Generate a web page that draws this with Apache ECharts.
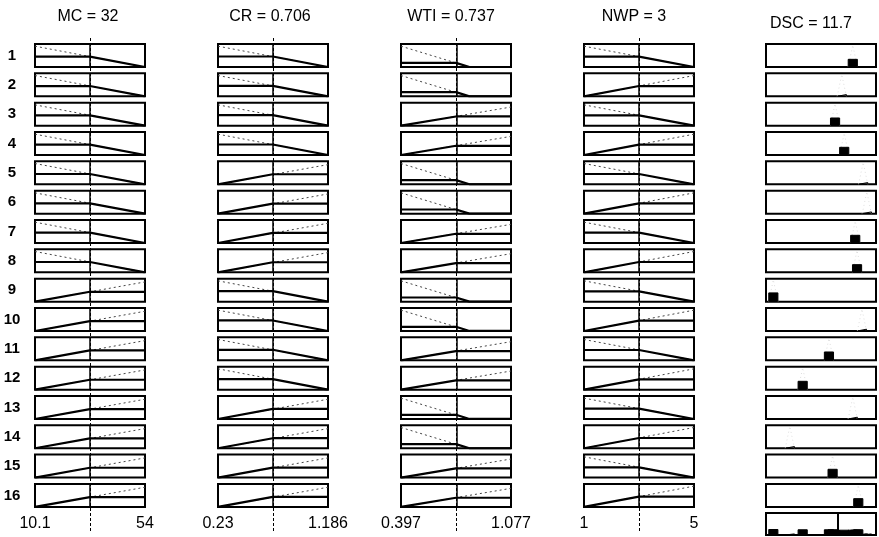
<!DOCTYPE html>
<html>
<head>
<meta charset="utf-8">
<script src="https://cdn.jsdelivr.net/npm/echarts@6/dist/echarts.min.js"></script>
<style>
  html, body { margin: 0; padding: 0; background: #fff; }
  #main { width: 879px; height: 537px; }
</style>
</head>
<body>
<div id="main"></div>
<script>
// fuzzy rule viewer: 16 rules, 4 inputs, 1 output
const ruleIds = [1, 2, 3, 4, 5, 6, 7, 8, 9, 10, 11, 12, 13, 14, 15, 16];
const titles = ["MC = 32", "CR = 0.706", "WTI = 0.737", "NWP = 3", "DSC = 11.7"];

const inputValues = [32, 0.706, 0.737, 3];
const inputMin = [10.1, 0.23, 0.397, 1];
const inputMax = [54, 1.186, 1.077, 5];
const minLabels = ["10.1", "0.23", "0.397", "1"];
const maxLabels = ["54", "1.186", "1.077", "5"];

// L = falling set, H = rising set
const mcSets  = ["L","L","L","L","L","L","L","L","H","H","H","H","H","H","H","H"];
const crSets  = ["L","L","L","L","H","H","H","H","L","L","L","L","H","H","H","H"];
const wtiSets = ["L","L","H","H","L","L","H","H","L","L","H","H","L","L","H","H"];
const nwpSets = ["L","H","L","H","L","H","L","H","L","H","L","H","L","H","L","H"];

const lowMF = [
  [[10.1, 0.95], [54, 0]],
  [[0.23, 0.95], [1.186, 0]],
  [[0.397, 0.95], [0.82, 0], [1.077, 0]],
  [[1, 0.95], [5, 0]]
];
const highMF = [
  [[10.1, 0], [54, 0.9]],
  [[0.23, 0], [1.186, 0.9]],
  [[0.397, 0], [1.077, 0.85]],
  [[1, 0], [5, 0.95]]
];
const lowLevel = [0.47, 0.48, 0.19, 0.47];
const highLevel = [0.45, 0.46, 0.42, 0.47];

// output DSC
const dscMin = 0, dscMax = 18, dscValue = 11.7;
const dscCenters = [14.2, 12.4, 11.3, 12.8, 15.9, 16.5, 14.6, 14.9, 1.2, 15.7, 10.3, 6.0, 14.2, 3.9, 10.9, 15.1];
const dscStrength = [0.35, 0.08, 0.35, 0.35, 0.08, 0.08, 0.35, 0.35, 0.4, 0.08, 0.38, 0.38, 0.08, 0.08, 0.38, 0.38];
const dscHalfWidth = 0.75;

const allSets = [mcSets, crSets, wtiSets, nwpSets];

// layout
const colLeft = [35, 218, 401, 584, 766];
const colWidth = 110;
const rowStart = 44, rowStep = 29.33, boxH = 23;
const aggTop = 513, aggH = 22;

const grid = [], xAxis = [], yAxis = [], series = [], graphic = [];
const font = '"Liberation Sans", Arial, sans-serif';

function addGrid(left, top, width, height, showBox) {
  grid.push({
    left: left, top: top, width: width, height: height,
    show: showBox, borderColor: "#000", borderWidth: 2, backgroundColor: showBox ? "#fff" : "transparent"
  });
  return grid.length - 1;
}
function hiddenY(max) {
  return { type: "value", min: 0, max: max, show: false, gridIndex: grid.length - 1 };
}

ruleIds.forEach((id, r) => {
  const top = rowStart + r * rowStep;
  graphic.push({
    type: "text", x: 12, y: top + boxH / 2,
    style: { text: String(id), font: "bold 15px " + font, fill: "#000", align: "center", verticalAlign: "middle" }
  });
  for (let c = 0; c < 4; c++) {
    const g = addGrid(colLeft[c], top, colWidth, boxH, true);
    const last = r === ruleIds.length - 1;
    const min = inputMin[c], max = inputMax[c], v = inputValues[c];
    xAxis.push({
      type: "value", gridIndex: g, min: min, max: max, interval: max - min,
      show: last, axisLine: { show: false }, axisTick: { show: false }, splitLine: { show: false },
      axisLabel: {
        show: last, margin: 9, color: "#000", fontSize: 16, fontFamily: font,
        showMinLabel: true, showMaxLabel: true,
        formatter: (val) => (Math.abs(val - min) < 1e-6 ? minLabels[c] : maxLabels[c])
      }
    });
    yAxis.push(hiddenY(1.05));
    const isLow = allSets[c][r] === "L";
    const mf = isLow ? lowMF[c] : highMF[c];
    let clipped;
    if (isLow) {
      const lvl = lowLevel[c];
      clipped = [[min, lvl], [v, lvl]].concat(mf.filter(p => p[0] > v));
    } else {
      const lvl = highLevel[c];
      clipped = mf.filter(p => p[0] < v).concat([[v, lvl], [max, lvl]]);
    }
    series.push({
      type: "line", xAxisIndex: g, yAxisIndex: g, data: mf, showSymbol: false, silent: true,
      lineStyle: { color: "#444", width: 1, type: [2, 3] }, z: 2
    });
    series.push({
      type: "line", xAxisIndex: g, yAxisIndex: g, data: clipped, showSymbol: false, silent: true,
      lineStyle: { color: "#000", width: 2.2 }, z: 3,
      markLine: {
        silent: true, symbol: "none", animation: false, label: { show: false },
        lineStyle: { color: "#000", width: 1.5, type: "solid" },
        data: [{ xAxis: v }]
      }
    });
  }
  // output box
  const g = addGrid(colLeft[4], top, colWidth, boxH, true);
  xAxis.push({ type: "value", gridIndex: g, min: dscMin, max: dscMax, show: false });
  yAxis.push(hiddenY(1.05));
  const cx = dscCenters[r], h = dscStrength[r], w = dscHalfWidth;
  series.push({
    type: "line", xAxisIndex: g, yAxisIndex: g, showSymbol: false, silent: true, z: 2,
    data: [[cx - w, 0], [cx, 1], [cx + w, 0]],
    lineStyle: { color: "#ddd", width: 1, type: [1, 3] }
  });
  series.push({
    type: "line", xAxisIndex: g, yAxisIndex: g, showSymbol: false, silent: true, z: 4,
    data: [[cx - w, 0], [cx - w, h], [cx + w, h], [cx + w, 0]],
    lineStyle: { color: "#000", width: 1 }, areaStyle: { color: "#000", opacity: 1 }
  });
});

// full-height input markers
for (let c = 0; c < 4; c++) {
  const g = addGrid(colLeft[c], 38, colWidth, 493, false);
  xAxis.push({ type: "value", gridIndex: g, min: inputMin[c], max: inputMax[c], show: false });
  yAxis.push(hiddenY(1));
  series.push({
    type: "line", xAxisIndex: g, yAxisIndex: g, data: [], silent: true, z: 1,
    markLine: {
      silent: true, symbol: "none", animation: false, label: { show: false },
      lineStyle: { color: "#000", width: 1, type: [3, 2] },
      data: [{ xAxis: inputValues[c] }]
    }
  });
}

// aggregated output
const ga = addGrid(colLeft[4], aggTop, colWidth, aggH, true);
xAxis.push({ type: "value", gridIndex: ga, min: dscMin, max: dscMax, show: false });
yAxis.push(hiddenY(1.6));
ruleIds.forEach((id, r) => {
  const cx = dscCenters[r], h = dscStrength[r], w = dscHalfWidth;
  series.push({
    type: "line", xAxisIndex: ga, yAxisIndex: ga, showSymbol: false, silent: true, z: 4,
    data: [[cx - w, 0], [cx - w, h], [cx + w, h], [cx + w, 0]],
    lineStyle: { color: "#000", width: 1 }, areaStyle: { color: "#000", opacity: 1 }
  });
});
series.push({
  type: "line", xAxisIndex: ga, yAxisIndex: ga, data: [], silent: true, z: 5,
  markLine: {
    silent: true, symbol: "none", animation: false, label: { show: false },
    lineStyle: { color: "#000", width: 2, type: "solid" },
    data: [{ xAxis: dscValue }]
  }
});

// column titles
const titleX = [88, 270, 451, 634, 811];
const titleY = [17, 17, 17, 17, 24];
titles.forEach((t, i) => {
  graphic.push({
    type: "text", x: titleX[i], y: titleY[i],
    style: { text: t, font: "16px " + font, fill: "#000", align: "center", verticalAlign: "middle" }
  });
});

const chart = echarts.init(document.getElementById("main"));
chart.setOption({
  animation: false,
  backgroundColor: "#fff",
  grid: grid, xAxis: xAxis, yAxis: yAxis, series: series, graphic: graphic
});
</script>
</body>
</html>
